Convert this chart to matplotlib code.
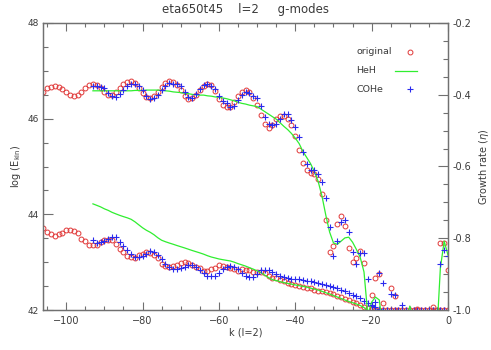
import numpy as np
import matplotlib
matplotlib.use('Agg')
import matplotlib.pyplot as plt
from matplotlib.ticker import MultipleLocator, FormatStrFormatter
from matplotlib.lines import Line2D

# ---------------- data ----------------
k_orig = np.arange(-106, 1)          # radial order, original model
k_cohe = np.arange(-93, 1)           # radial order, COHe model
k_heh = np.arange(-93, 1)            # radial order, HeH model (growth rate)
k_heh_e = np.arange(-93, -19)        # radial order, HeH model (log Ekin)

orig_growth = [
    -0.391, -0.382, -0.378, -0.377, -0.379, -0.385, -0.393, -0.401, -0.403, -0.400,
    -0.392, -0.382, -0.374, -0.370, -0.374, -0.382, -0.393, -0.401, -0.400, -0.392,
    -0.381, -0.369, -0.364, -0.363, -0.368, -0.381, -0.394, -0.406, -0.408, -0.403,
    -0.392, -0.378, -0.367, -0.361, -0.364, -0.372, -0.386, -0.403, -0.412, -0.408,
    -0.400, -0.386, -0.375, -0.369, -0.372, -0.389, -0.411, -0.428, -0.435, -0.433,
    -0.419, -0.403, -0.392, -0.387, -0.392, -0.408, -0.428, -0.456, -0.481, -0.492,
    -0.483, -0.468, -0.458, -0.458, -0.468, -0.484, -0.514, -0.553, -0.589, -0.609,
    -0.617, -0.622, -0.636, -0.676, -0.750, -0.839, -0.822, -0.759, -0.739, -0.767,
    -0.826, -0.866, -0.854, -0.836, -0.869, -1.05, -0.958, -0.911, -0.900, -0.981,
    -1.05, -0.939, -0.961, -1.05, -1.05, -1.05, -1.05, -1.05, -0.998, -1.05,
    -1.05, -1.05, -0.993, -1.05, -0.814, -0.814, -0.889]

orig_ekin = [
    43.723, 43.631, 43.598, 43.542, 43.598, 43.610, 43.681, 43.681, 43.652, 43.610,
    43.494, 43.438, 43.354, 43.354, 43.354, 43.423, 43.458, 43.473, 43.458, 43.375,
    43.285, 43.215, 43.125, 43.098, 43.077, 43.146, 43.167, 43.215, 43.194, 43.146,
    43.077, 42.958, 42.917, 42.902, 42.917, 42.938, 42.985, 43.006, 42.973, 42.938,
    42.902, 42.869, 42.819, 42.819, 42.848, 42.869, 42.938, 42.917, 42.902, 42.869,
    42.848, 42.819, 42.848, 42.833, 42.833, 42.798, 42.798, 42.792, 42.765, 42.719,
    42.677, 42.660, 42.635, 42.608, 42.573, 42.548, 42.531, 42.510, 42.485, 42.469,
    42.452, 42.427, 42.406, 42.390, 42.369, 42.354, 42.327, 42.302, 42.271, 42.240,
    42.208, 42.177, 42.146, 42.108, 42.073, 42.046, 42.021, 41.99, 41.99, 41.99,
    41.99, 41.99, 41.99, 41.99, 41.99, 41.99, 41.99, 41.99, 41.99, 41.99,
    41.99, 41.99, 41.99, 41.99, 41.99, 41.99, 41.99]

cohe_growth = [
    -0.375, -0.375, -0.378, -0.381, -0.394, -0.403, -0.406, -0.398, -0.387, -0.375,
    -0.369, -0.369, -0.375, -0.387, -0.403, -0.411, -0.408, -0.400, -0.386, -0.375,
    -0.367, -0.369, -0.370, -0.375, -0.391, -0.406, -0.409, -0.398, -0.384, -0.374,
    -0.369, -0.375, -0.384, -0.403, -0.417, -0.424, -0.435, -0.431, -0.415, -0.400,
    -0.391, -0.394, -0.403, -0.408, -0.431, -0.461, -0.481, -0.483, -0.481, -0.467,
    -0.454, -0.454, -0.470, -0.489, -0.517, -0.560, -0.594, -0.611, -0.611, -0.620,
    -0.644, -0.687, -0.769, -0.850, -0.808, -0.755, -0.750, -0.783, -0.838, -0.872,
    -0.842, -0.842, -0.914, -0.986, -0.977, -0.898, -0.926, -1.05, -0.956, -0.958,
    -1.05, -0.986, -1.05, -1.05, -1.05, -1.05, -1.05, -1.05, -1.05, -1.05,
    -1.05, -0.872, -0.833, -0.850]

cohe_ekin = [
    43.458, 43.402, 43.423, 43.444, 43.494, 43.527, 43.527, 43.423, 43.333, 43.250,
    43.181, 43.098, 43.098, 43.125, 43.181, 43.229, 43.215, 43.146, 43.056, 42.958,
    42.890, 42.848, 42.848, 42.869, 42.902, 42.938, 42.938, 42.890, 42.833, 42.765,
    42.708, 42.708, 42.708, 42.777, 42.848, 42.890, 42.917, 42.890, 42.848, 42.765,
    42.708, 42.694, 42.694, 42.750, 42.833, 42.833, 42.827, 42.792, 42.750, 42.708,
    42.683, 42.663, 42.656, 42.646, 42.640, 42.631, 42.615, 42.598, 42.579, 42.567,
    42.552, 42.533, 42.510, 42.485, 42.458, 42.423, 42.390, 42.358, 42.323, 42.292,
    42.250, 42.198, 42.146, 42.094, 42.063, 42.031, 42.010, 41.99, 41.99, 41.99,
    41.99, 41.99, 41.99, 41.99, 41.99, 41.99, 41.99, 41.99, 41.99, 41.99,
    41.99, 41.99, 41.99, 41.99]

heh_growth = [
    -0.389, -0.389, -0.389, -0.389, -0.389, -0.389, -0.389, -0.389, -0.389, -0.389,
    -0.389, -0.388, -0.388, -0.388, -0.387, -0.387, -0.387, -0.387, -0.388, -0.389,
    -0.390, -0.392, -0.393, -0.394, -0.396, -0.397, -0.399, -0.400, -0.401, -0.401,
    -0.403, -0.404, -0.406, -0.407, -0.409, -0.411, -0.414, -0.417, -0.421, -0.424,
    -0.426, -0.429, -0.431, -0.433, -0.440, -0.447, -0.454, -0.461, -0.468, -0.478,
    -0.488, -0.497, -0.508, -0.521, -0.536, -0.558, -0.575, -0.592, -0.614, -0.642,
    -0.683, -0.736, -0.783, -0.813, -0.817, -0.808, -0.799, -0.797, -0.811, -0.831,
    -0.853, -0.894, -1.014, -0.978, -0.964, -0.972, -1.056, -1.08, -1.08, -1.08,
    -1.08, -1.08, -1.03, -0.989, -1.03, -1.08, -1.08, -1.08, -1.08, -1.08,
    -1.08, -0.883, -0.808, -0.847]

heh_ekin = [
    44.219, 44.188, 44.156, 44.115, 44.083, 44.042, 44.010, 43.979, 43.952, 43.927,
    43.896, 43.844, 43.781, 43.719, 43.667, 43.625, 43.573, 43.510, 43.458, 43.427,
    43.400, 43.375, 43.348, 43.323, 43.298, 43.271, 43.244, 43.219, 43.194, 43.167,
    43.135, 43.108, 43.088, 43.067, 43.052, 43.038, 43.025, 43.000, 42.969, 42.944,
    42.917, 42.885, 42.854, 42.819, 42.781, 42.729, 42.677, 42.635, 42.615, 42.594,
    42.573, 42.556, 42.542, 42.525, 42.510, 42.494, 42.479, 42.458, 42.438, 42.417,
    42.390, 42.360, 42.333, 42.302, 42.271, 42.240, 42.208, 42.177, 42.152, 42.125,
    42.094, 42.052, 41.979, 41.875]

labels = ['original', 'HeH', 'COHe']
title = 'eta650t45    l=2     g-modes'

# ---------------- style ----------------
RED = '#e03838'
GREEN = '#30ee30'
BLUE = '#2a2aee'
TXT = '#3a3a3a'
AXC = '#707070'

plt.rcParams['font.family'] = ['DejaVu Sans']

fig = plt.figure(figsize=(4.91, 3.5), dpi=100)
L, R, T, B = 43.3, 448.0, 23.0, 310.0
ax = fig.add_axes([L / 491, 1 - B / 350, (R - L) / 491, (B - T) / 350])
ax2 = ax.twinx()

# lower set: log E_kin (left axis)
ax.plot(k_orig, orig_ekin, 'o', mfc='none', mec=RED, ms=3.5, mew=0.7)
ax.plot(k_heh_e, heh_ekin, '-', color=GREEN, lw=0.9)
ax.plot(k_cohe, cohe_ekin, '+', color=BLUE, ms=4.5, mew=0.8)

# upper set: growth rate (right axis)
ax2.plot(k_orig, orig_growth, 'o', mfc='none', mec=RED, ms=3.5, mew=0.7)
ax2.plot(k_heh, heh_growth, '-', color=GREEN, lw=0.9)
ax2.plot(k_cohe, cohe_growth, '+', color=BLUE, ms=4.5, mew=0.8)

ax.set_xlim(-106, 0)
ax.set_ylim(42, 48)
ax2.set_ylim(-1.0, -0.2)

ax.xaxis.set_major_locator(MultipleLocator(20))
ax.xaxis.set_minor_locator(MultipleLocator(5))
ax.yaxis.set_major_locator(MultipleLocator(2))
ax.yaxis.set_minor_locator(MultipleLocator(0.5))
ax2.yaxis.set_major_locator(MultipleLocator(0.2))
ax2.yaxis.set_minor_locator(MultipleLocator(0.05))
ax2.yaxis.set_major_formatter(FormatStrFormatter('%.1f'))

for a in (ax, ax2):
    for s in a.spines.values():
        s.set_color(AXC)
        s.set_linewidth(0.9)

ax.tick_params(axis='x', which='major', direction='in', top=True, length=5.5,
               width=0.8, color=AXC, labelsize=7, labelcolor=TXT, pad=4)
ax.tick_params(axis='x', which='minor', direction='in', top=True, length=2.8,
               width=0.8, color=AXC)
ax.tick_params(axis='y', which='major', direction='in', length=7,
               width=0.8, color=AXC, labelsize=6.5, labelcolor=TXT, pad=3.5)
ax.tick_params(axis='y', which='minor', direction='in', length=3.5,
               width=0.8, color=AXC)
ax2.tick_params(axis='y', which='major', direction='in', length=7,
                width=0.8, color=AXC, labelsize=7, labelcolor=TXT, pad=3)
ax2.tick_params(axis='y', which='minor', direction='in', length=3.5,
                width=0.8, color=AXC)

ax.set_title(title, fontsize=8.5, color=TXT, pad=7)
ax.set_xlabel('k (l=2)', fontsize=7, color=TXT)
ax.xaxis.set_label_coords(0.5, -0.06)
ax.set_ylabel(r'log (E$_{\rm kin}$)', fontsize=7, color=TXT)
ax.yaxis.set_label_coords(-0.051, 0.5)
ax2.set_ylabel(r'Growth rate ($\eta$)', fontsize=7, color=TXT)
ax2.yaxis.set_label_coords(1.072, 0.5)

# legend (text left, symbol right)
ly = [0.899, 0.834, 0.770]
for lab, y in zip(labels, ly):
    ax.text(0.773, y, lab, transform=ax.transAxes, ha='left', va='center',
            fontsize=6.8, color=TXT)
ax.add_line(Line2D([0.906], [ly[0]], transform=ax.transAxes, marker='o',
                   mfc='none', mec=RED, ms=3.5, mew=0.7, ls='none'))
ax.add_line(Line2D([0.869, 0.923], [ly[1], ly[1]], transform=ax.transAxes,
                   color=GREEN, lw=0.9))
ax.add_line(Line2D([0.906], [ly[2]], transform=ax.transAxes, marker='+',
                   color=BLUE, ms=4.5, mew=0.8, ls='none'))

fig.savefig('out.png', dpi=100)
